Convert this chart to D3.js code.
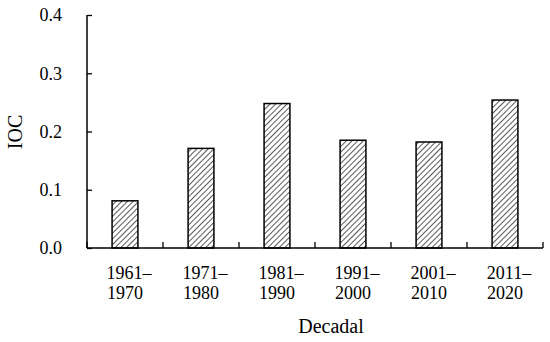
<!DOCTYPE html>
<html>
<head>
<meta charset="utf-8">
<script src="https://cdn.jsdelivr.net/npm/d3@7"></script>
<style>
  body { margin: 0; background: #fff; }
  text { font-family: "Liberation Serif", "Times New Roman", serif; fill: #000; }
</style>
</head>
<body>
<div id="chart"></div>
<script>
const decades = ['1961–1970', '1971–1980', '1981–1990', '1991–2000', '2001–2010', '2011–2020'];
const ioc = [0.081, 0.171, 0.248, 0.185, 0.182, 0.254];
const yTicks = [0.0, 0.1, 0.2, 0.3, 0.4];

const width = 550, height = 342;
const margin = { top: 15, right: 7, bottom: 94, left: 87 };

const svg = d3.select('#chart').append('svg')
  .attr('width', width)
  .attr('height', height);

const defs = svg.append('defs');
const pat = defs.append('pattern')
  .attr('id', 'hatch')
  .attr('patternUnits', 'userSpaceOnUse')
  .attr('width', 4)
  .attr('height', 4)
  .attr('patternTransform', 'rotate(45)');
pat.append('rect').attr('width', 4).attr('height', 4).attr('fill', '#fff');
pat.append('line')
  .attr('x1', 0).attr('y1', 0).attr('x2', 0).attr('y2', 4)
  .attr('stroke', '#000').attr('stroke-width', 1.3);

const x = d3.scaleBand()
  .domain(decades)
  .range([margin.left, width - margin.right])
  .paddingInner(0.66)
  .paddingOuter(0.33);

const y = d3.scaleLinear()
  .domain([0, 0.4])
  .range([height - margin.bottom, margin.top]);

// bars
svg.append('g')
  .selectAll('rect')
  .data(decades)
  .join('rect')
  .attr('x', d => x(d))
  .attr('width', x.bandwidth())
  .attr('y', (d, i) => y(ioc[i]))
  .attr('height', (d, i) => y(0) - y(ioc[i]))
  .attr('fill', 'url(#hatch)')
  .attr('stroke', '#000')
  .attr('stroke-width', 1.5);

// y axis, ticks pointing inward
const yAxis = svg.append('g')
  .attr('transform', `translate(${margin.left},0)`)
  .call(d3.axisRight(y).tickValues(yTicks).tickSize(5).tickFormat(''));
yAxis.select('.domain').remove();
yAxis.selectAll('line').attr('stroke', '#000').attr('stroke-width', 1.3);
svg.append('line')
  .attr('x1', margin.left).attr('x2', margin.left)
  .attr('y1', y(0.4)).attr('y2', y(0))
  .attr('stroke', '#000').attr('stroke-width', 1.5);

svg.append('g')
  .selectAll('text')
  .data(yTicks)
  .join('text')
  .attr('x', 62)
  .attr('y', d => y(d))
  .attr('dy', '0.35em')
  .attr('text-anchor', 'end')
  .style('font-size', '18px')
  .text(d3.format('.1f'));

// x axis with boundary ticks pointing up
const step = x.step();
const bounds = d3.range(decades.length + 1).map(i => margin.left + i * step);
svg.append('line')
  .attr('x1', margin.left).attr('x2', width - margin.right)
  .attr('y1', y(0)).attr('y2', y(0))
  .attr('stroke', '#000').attr('stroke-width', 1.5);
svg.append('g')
  .selectAll('line')
  .data(bounds)
  .join('line')
  .attr('x1', d => d).attr('x2', d => d)
  .attr('y1', y(0)).attr('y2', y(0) - 6)
  .attr('stroke', '#000').attr('stroke-width', 1.3);

const xl = svg.append('g')
  .selectAll('text')
  .data(decades)
  .join('text')
  .attr('x', d => x(d) + x.bandwidth() / 2)
  .attr('y', 279)
  .attr('text-anchor', 'middle')
  .style('font-size', '18px');
xl.append('tspan')
  .attr('x', d => x(d) + x.bandwidth() / 2)
  .attr('dx', 4)
  .text(d => d.split('–')[0] + '–');
xl.append('tspan')
  .attr('x', d => x(d) + x.bandwidth() / 2)
  .attr('dy', 20)
  .text(d => d.split('–')[1]);

// axis titles
svg.append('text')
  .attr('x', 331)
  .attr('y', 333)
  .attr('text-anchor', 'middle')
  .style('font-size', '20px')
  .text('Decadal');

svg.append('text')
  .attr('transform', `translate(22,132) rotate(-90)`)
  .attr('text-anchor', 'middle')
  .style('font-size', '20px')
  .text('IOC');
</script>
</body>
</html>
